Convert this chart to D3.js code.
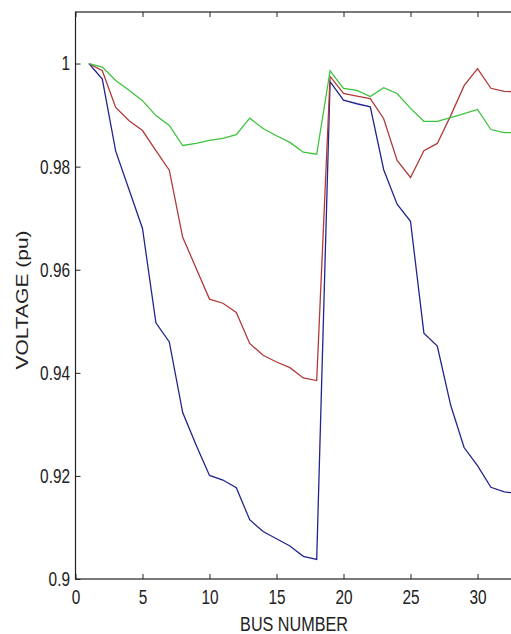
<!DOCTYPE html>
<html>
<head>
<meta charset="utf-8">
<script src="https://cdn.jsdelivr.net/npm/d3@7"></script>
<style>
  body { margin: 0; background: #fff; }
  text { font-family: "Liberation Sans", Arial, sans-serif; fill: #222; }
</style>
</head>
<body>
<script>
// bus numbers and voltage profiles (pu)
const buses = [1, 2, 3, 4, 5, 6, 7, 8, 9, 10, 11, 12, 13, 14, 15, 16, 17, 18, 19, 20,
  21, 22, 23, 24, 25, 26, 27, 28, 29, 30, 31, 32, 33];

const blueVals = [1.0, 0.997, 0.983, 0.9755, 0.968, 0.9497, 0.946, 0.9323, 0.926, 0.9201,
  0.9192, 0.9177, 0.9115, 0.9092, 0.9078, 0.9064, 0.9044, 0.9038, 0.9965, 0.9929,
  0.9922, 0.9916, 0.9794, 0.9727, 0.9694, 0.9477, 0.9452, 0.9337, 0.9255, 0.922,
  0.9178, 0.9169, 0.9166];

const redVals = [1.0, 0.9986, 0.9915, 0.9889, 0.987, 0.9831, 0.9793, 0.9663, 0.9603, 0.9543,
  0.9535, 0.9517, 0.9457, 0.9434, 0.9421, 0.941, 0.939, 0.9385, 0.9975, 0.9942,
  0.9937, 0.9932, 0.9893, 0.9812, 0.9779, 0.9831, 0.9845, 0.9899, 0.9957, 0.999,
  0.9952, 0.9946, 0.9945];

const greenVals = [1.0, 0.9993, 0.9967, 0.9948, 0.9928, 0.9899, 0.988, 0.9841, 0.9845, 0.9851,
  0.9855, 0.9862, 0.9894, 0.9874, 0.986, 0.9847, 0.9828, 0.9824, 0.9986, 0.9952,
  0.9948, 0.9936, 0.9953, 0.9942, 0.9913, 0.9888, 0.9888, 0.9895, 0.9903, 0.9911,
  0.9872, 0.9866, 0.9866];

const xTicks = [0, 5, 10, 15, 20, 25, 30];
const yTicks = [0.9, 0.92, 0.94, 0.96, 0.98, 1.0];

const W = 511, H = 634;
const padL = 75.5, padT = 12, padB = 579, padR = 544.5;
const squeeze = 0.77; // the picture is squashed sideways, text too

const svg = d3.select("body").append("svg")
  .attr("width", W)
  .attr("height", H);

const x = d3.scaleLinear().domain([0, 35]).range([padL, padR]);
const y = d3.scaleLinear().domain([0.9, 1.01]).range([padB, padT]);

svg.append("defs").append("clipPath").attr("id", "plot")
  .append("rect")
  .attr("x", padL).attr("y", padT)
  .attr("width", padR - padL).attr("height", padB - padT);

// axes, ticks pointing inwards like matlab
const fmt = d => d === 1 ? "1" : String(+d.toFixed(2));

svg.append("g")
  .attr("class", "xaxis")
  .attr("transform", "translate(0," + padB + ")")
  .call(d3.axisBottom(x).tickValues(xTicks).tickSize(-5).tickPadding(11).tickFormat(d3.format("d")))
  .call(g => g.select(".domain").remove());

svg.append("g")
  .attr("transform", "translate(0," + padT + ")")
  .call(d3.axisTop(x).tickValues(xTicks).tickSize(-5).tickFormat(""))
  .call(g => g.select(".domain").remove());

svg.append("g")
  .attr("class", "yaxis")
  .attr("transform", "translate(" + padL + ",0)")
  .call(d3.axisLeft(y).tickValues(yTicks).tickSize(-5).tickFormat(fmt))
  .call(g => g.select(".domain").remove());

svg.selectAll(".tick line").attr("stroke", "#222");
svg.selectAll(".tick text")
  .attr("font-size", "20px")
  .attr("fill", "#222")
  .attr("transform", "scale(" + squeeze + ",1)");
svg.selectAll(".yaxis .tick text").attr("x", -5.5 / squeeze);

svg.append("rect")
  .attr("x", padL).attr("y", padT)
  .attr("width", padR - padL).attr("height", padB - padT)
  .attr("fill", "none")
  .attr("stroke", "#222")
  .attr("stroke-width", 1.2);

const line = d3.line()
  .x((d, i) => x(buses[i]))
  .y(d => y(d));

const series = [
  { vals: blueVals, color: "#24248e" },
  { vals: redVals, color: "#b03a3a" },
  { vals: greenVals, color: "#3cc43c" }
];

svg.append("g").attr("clip-path", "url(#plot)")
  .selectAll("path")
  .data(series)
  .enter().append("path")
  .attr("d", d => line(d.vals))
  .attr("fill", "none")
  .attr("stroke", d => d.color)
  .attr("stroke-width", 1.3);

svg.append("text")
  .attr("transform", "translate(294,631) scale(" + squeeze + ",1)")
  .attr("text-anchor", "middle")
  .attr("font-size", "21px")
  .text("BUS NUMBER");

svg.append("text")
  .attr("transform", "translate(28,300) scale(" + squeeze + ",1) rotate(-90)")
  .attr("text-anchor", "middle")
  .attr("font-size", "21px")
  .text("VOLTAGE (pu)");
</script>
</body>
</html>
